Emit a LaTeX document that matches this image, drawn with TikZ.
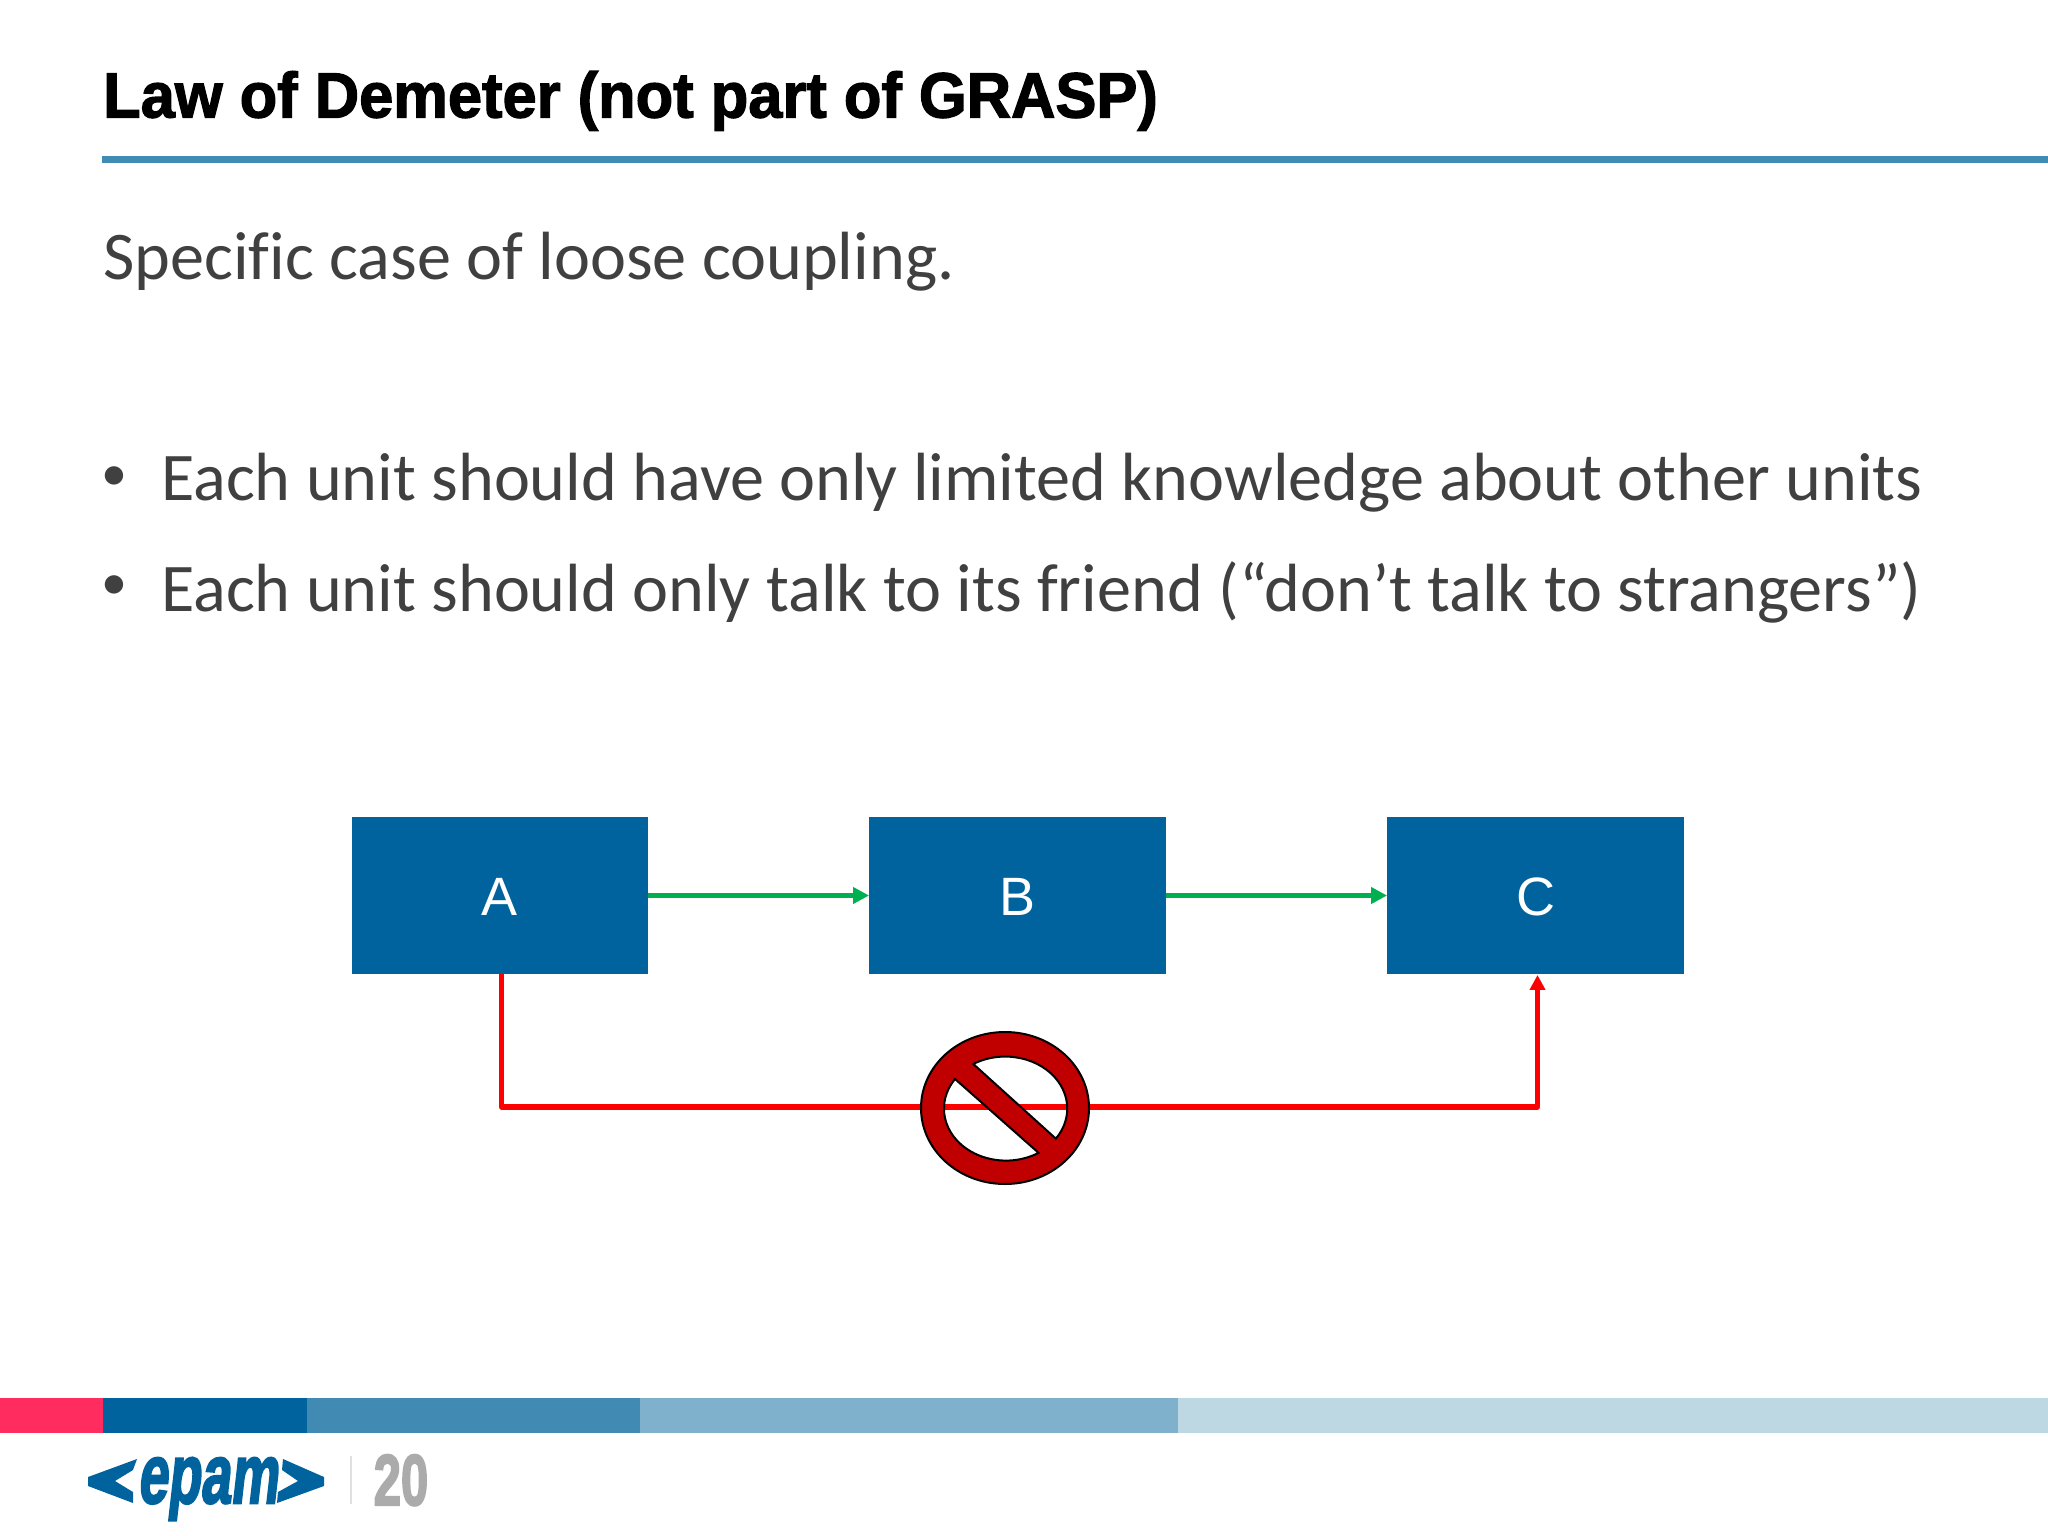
\documentclass[tikz,border=0pt]{standalone}
\usepackage{fontspec}
\setmainfont{Carlito}[Ligatures=NoCommon]
\newfontfamily\titlefont[FakeBold=2]{Liberation Sans Bold}
\newfontfamily\arialfont{Liberation Sans}
\newfontfamily\logofont[FakeSlant=0.18,FakeBold=3]{Liberation Sans Bold}
\newfontfamily\numfont[FakeBold=3]{Liberation Sans Bold}
\usetikzlibrary{arrows.meta}
\definecolor{epamblue}{HTML}{00639E}
\definecolor{epammid}{HTML}{418AB3}
\definecolor{epamlight}{HTML}{7FB0CC}
\definecolor{epampale}{HTML}{BDD8E3}
\definecolor{epampink}{HTML}{FF2D5F}
\definecolor{bodygrey}{HTML}{404040}
\definecolor{arrowgreen}{HTML}{00B050}
\definecolor{signred}{HTML}{C00000}
\tikzset{
 x=1pt,y=1pt,
 box/.style={draw=none,fill=epamblue,text=white,minimum width=296.5pt,minimum height=156.5pt,inner sep=0pt,text height=40.4pt,text depth=0pt,font=\arialfont\fontsize{54}{60}\selectfont},
 bodytext/.style={anchor=base west,inner sep=0pt,text=bodygrey,font=\fontsize{68.2}{74}\selectfont},
 bullet/.style={anchor=base west,inner sep=0pt,text=bodygrey,font=\fontsize{52}{56}\selectfont},
 okarrow/.style={draw=arrowgreen,line width=5.8pt,-{Triangle[length=16pt,width=16pt]}},
 badarrow/.style={draw=red,line width=5.4pt,line join=round,-{Triangle[length=15pt,width=15pt]}},
}
\begin{document}
\begin{tikzpicture}
\useasboundingbox (0,0) rectangle (2048,-1536);
\fill[white] (0,0) rectangle (2048,-1536);
% title
\node[anchor=base west,inner sep=0pt,text=black,xscale=0.96,font=\titlefont\fontsize{64}{70}\selectfont] (title) at (103,-117.5) {Law of Demeter (not part of GRASP)};
\fill[epammid] (102,-156.5) rectangle (2048,-163);
% body
\node[bodytext] (lead) at (103,-279) {Specific case of loose coupling.};
\node[bullet] (bul1) at (101,-490) {•};
\node[bodytext] (item1) at (161,-500) {Each unit should have only limited knowledge about other units};
\node[bullet] (bul2) at (101,-599) {•};
\node[bodytext] (item2) at (161,-611) {Each unit should only talk to its friend (“don’t talk to strangers”)};
% boxes
\node[box] (A) at (500,-895.5) {A};
\node[box] (B) at (1017.5,-895.5) {B};
\node[box] (C) at (1535.5,-895.5) {C};
\draw[okarrow] (A.east) -- (B.west);
\draw[okarrow] (B.east) -- (C.west);
\coordinate (ab) at (501.5,-1107);
\coordinate (cb) at (1537.5,-1107);
\draw[badarrow] ([xshift=1.5pt]A.south) -- (ab) -- (cb) -- ([xshift=2pt,yshift=-1pt]C.south);
% prohibition sign
\filldraw[signred,draw=black,line width=2pt,even odd rule]
 (1005,-1108) ellipse [x radius=84,y radius=76]
 (973.3,-1064) arc [start angle=121,end angle=-35.3,x radius=62,y radius=52] -- cycle
 (955,-1079) arc [start angle=145.3,end angle=301.7,x radius=62,y radius=52] -- cycle;
% footer band
\fill[epampink] (0,-1398) rectangle (103,-1433);
\fill[epamblue] (103,-1398) rectangle (307,-1433);
\fill[epammid] (307,-1398) rectangle (640,-1433);
\fill[epamlight] (640,-1398) rectangle (1178,-1433);
\fill[epampale] (1178,-1398) rectangle (2048,-1433);
% logo
\fill[epamblue] (88,-1477) -- (137,-1459) -- (133,-1470) -- (115,-1481) -- (133,-1492) -- (133,-1503) -- (88,-1486) -- cycle;
\fill[epamblue] (324,-1477) -- (283,-1459) -- (282,-1470) -- (298,-1481) -- (278,-1492) -- (277,-1503) -- (324,-1486) -- cycle;
\node[anchor=base,inner sep=0pt,text=epamblue,xscale=0.64,font=\logofont\fontsize{84}{84}\selectfont] (logo) at (207.5,-1503) {epam};
\fill[black!12] (349.5,-1456) rectangle (351.5,-1504);
\node[anchor=base,inner sep=0pt,text=black!33,xscale=0.68,font=\numfont\fontsize{72}{72}\selectfont] (num) at (401,-1505) {20};
\end{tikzpicture}
\end{document}
